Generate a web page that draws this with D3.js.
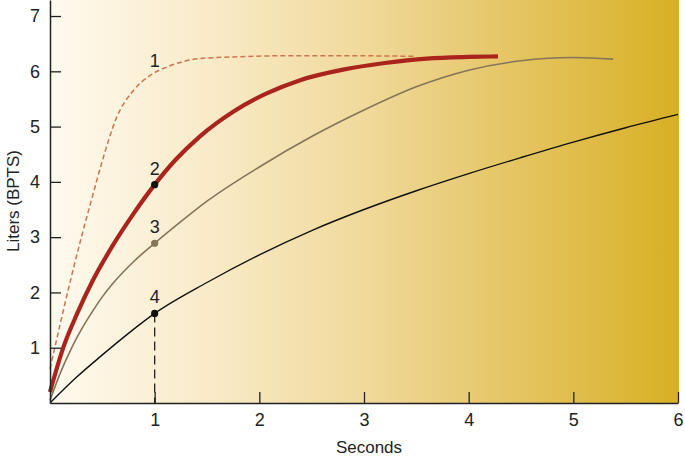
<!DOCTYPE html>
<html>
<head>
<meta charset="utf-8">
<script src="https://cdn.jsdelivr.net/npm/d3@7"></script>
<style>
  body { margin: 0; background: #fff; }
  text { font-family: "Liberation Sans", Arial, sans-serif; fill: #222; }
</style>
</head>
<body>
<div id="chart"></div>
<script>
// curve data: [seconds, liters]
const curve1 = [[0, 0.62], [0.1, 1.45], [0.2, 2.25], [0.3, 3.0], [0.4, 3.7], [0.48, 4.25],
  [0.64, 5.18], [0.8, 5.66], [0.96, 5.93], [1.12, 6.08], [1.43, 6.23], [1.75, 6.26],
  [2.2, 6.28], [3.0, 6.28], [3.5, 6.27]];
const curve2 = [[0, 0.2], [0.13, 1.02], [0.26, 1.62], [0.41, 2.22], [0.6, 2.85], [0.8, 3.43],
  [1, 3.95], [1.2, 4.4], [1.43, 4.82], [1.75, 5.27], [2.07, 5.6], [2.39, 5.84], [2.8, 6.03],
  [3.2, 6.15], [3.6, 6.23], [4.0, 6.26], [4.28, 6.27]];
const curve3 = [[0, 0.05], [0.1, 0.55], [0.2, 0.97], [0.3, 1.33], [0.4, 1.64], [0.5, 1.92],
  [0.6, 2.16], [0.8, 2.56], [1, 2.89], [1.25, 3.28], [1.5, 3.65], [2, 4.27], [2.5, 4.82],
  [3, 5.3], [3.5, 5.72], [4, 6.02], [4.5, 6.19], [5, 6.25], [5.38, 6.22]];
const curve4 = [[0, 0], [0.25, 0.46], [0.5, 0.87], [0.75, 1.26], [1, 1.62], [1.5, 2.18],
  [2, 2.68], [2.5, 3.12], [3, 3.5], [3.5, 3.84], [4, 4.15], [4.5, 4.44], [5, 4.72],
  [5.5, 4.98], [6, 5.22]];
const markers = [[1, 3.95], [1, 2.89], [1, 1.62]];
const curveLabels = [['1', 1, 6.07], ['2', 1, 4.12], ['3', 1, 3.07], ['4', 1, 1.81]];
const xTicks = [1, 2, 3, 4, 5, 6];
const yTicks = [1, 2, 3, 4, 5, 6, 7];

const width = 685, height = 457;
const svg = d3.select('#chart').append('svg')
    .attr('width', width).attr('height', height);

let x = d3.scaleLinear().domain([0, 6]).range([50, 678]);
let y = d3.scaleLinear().domain([0, 7.29]).range([403, 0]);

// background gradient
const grad = svg.append('defs').append('linearGradient')
    .attr('id', 'bg').attr('x1', '0%').attr('x2', '100%');
[['0%', '#fefaee'], ['25%', '#f9ebc9'], ['50%', '#f0d99b'], ['75%', '#e4c460'], ['100%', '#d8b025']]
    .forEach(s => grad.append('stop').attr('offset', s[0]).attr('stop-color', s[1]));

svg.append('rect')
    .attr('x', x(0)).attr('y', 0)
    .attr('width', x(6) - x(0) + 1).attr('height', y(0))
    .attr('fill', 'url(#bg)');

const line = d3.line()
    .x(d => x(d[0]))
    .y(d => y(d[1]))
    .curve(d3.curveMonotoneX);

// dashed drop line from marker 4
svg.append('line')
    .attr('x1', x(1)).attr('x2', x(1))
    .attr('y1', y(1.62)).attr('y2', y(0))
    .attr('stroke', '#222').attr('stroke-width', 1.3)
    .attr('stroke-dasharray', '9,5');

svg.append('path').attr('d', line(curve4))
    .attr('fill', 'none').attr('stroke', '#111').attr('stroke-width', 1.4);
svg.append('path').attr('d', line(curve3))
    .attr('fill', 'none').attr('stroke', '#85745a').attr('stroke-width', 1.6);
svg.append('path').attr('d', line(curve1))
    .attr('fill', 'none').attr('stroke', '#cf7350').attr('stroke-width', 1.5)
    .attr('stroke-dasharray', '5,3');
svg.append('path').attr('d', line(curve2))
    .attr('fill', 'none').attr('stroke', '#a8241c').attr('stroke-width', 4.2);

svg.selectAll('.marker').data(markers).enter().append('circle')
    .attr('cx', d => x(d[0])).attr('cy', d => y(d[1])).attr('r', 3.6)
    .attr('fill', (d, i) => i === 1 ? '#85745a' : '#111');

svg.selectAll('.clabel').data(curveLabels).enter().append('text')
    .attr('x', d => x(d[1])).attr('y', d => y(d[2]))
    .attr('text-anchor', 'middle')
    .style('font-size', '18px')
    .text(d => d[0]);

// axes
const yAxis = svg.append('g')
    .attr('transform', 'translate(' + x(0) + ',0)')
    .call(d3.axisLeft(y).tickValues(yTicks).tickFormat(d3.format('d'))
        .tickSizeInner(-11).tickSizeOuter(0).tickPadding(10));
const xAxis = svg.append('g')
    .attr('transform', 'translate(0,' + y(0) + ')')
    .call(d3.axisBottom(x).tickValues(xTicks).tickFormat(d3.format('d'))
        .tickSizeInner(-11).tickSizeOuter(0).tickPadding(10));

[xAxis, yAxis].forEach(a => {
  a.select('.domain').attr('stroke', '#222').attr('stroke-width', 1.5);
  a.selectAll('.tick line').attr('stroke', '#222').attr('stroke-width', 1.3);
  a.selectAll('.tick text').style('font-size', '18px')
      .style('font-family', '"Liberation Sans", Arial, sans-serif').attr('fill', '#222');
});

svg.append('text')
    .attr('x', (x(0) + x(6)) / 2 + 5).attr('y', 453)
    .attr('text-anchor', 'middle')
    .style('font-size', '17px')
    .text('Seconds');

svg.append('text')
    .attr('transform', 'rotate(-90)')
    .attr('x', -201).attr('y', 19)
    .attr('text-anchor', 'middle')
    .style('font-size', '17px')
    .text('Liters (BPTS)');
</script>
</body>
</html>
